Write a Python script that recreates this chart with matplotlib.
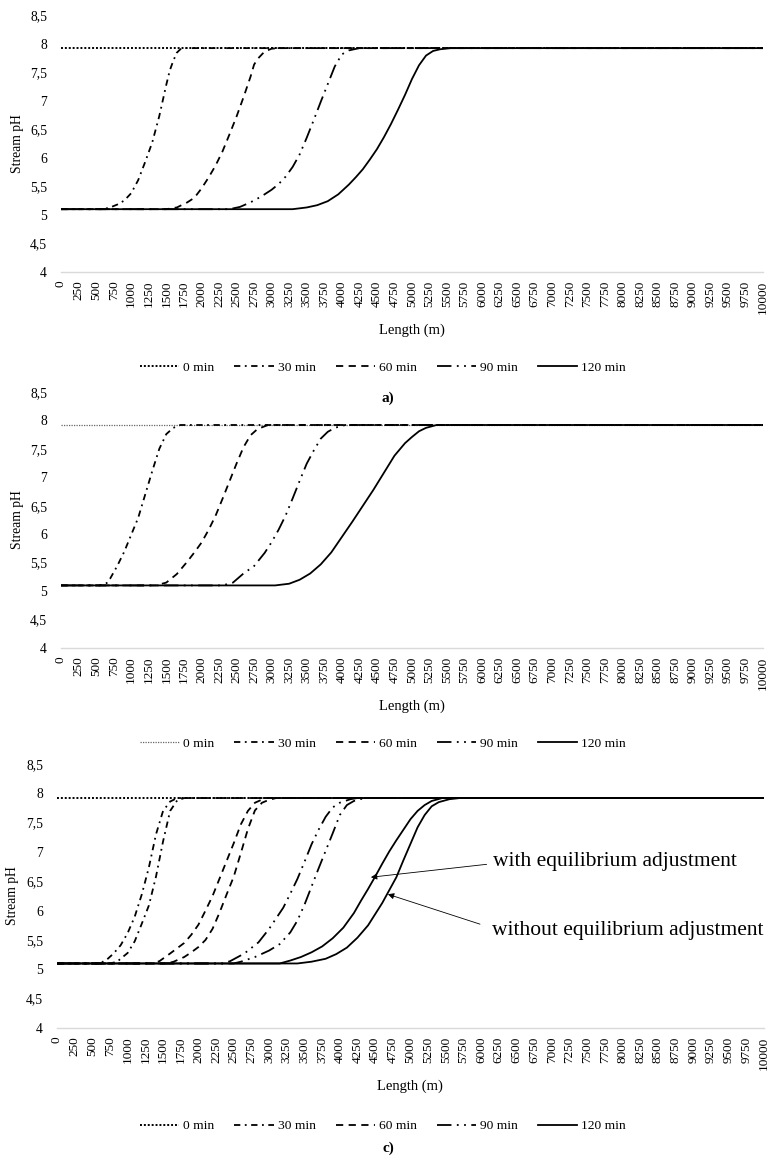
import matplotlib
matplotlib.use("Agg")
import matplotlib.pyplot as plt

plt.rcParams["font.family"] = ["Liberation Serif", "DejaVu Serif"]

# pH along the stream at 0, 30, 60, 90 and 120 min (x in metres)
A_0_X = [0, 10000]
A_0_PH = [7.92, 7.92]
A_30_X = [0, 600, 700, 800, 900, 1000, 1100, 1200, 1300, 1400, 1500, 1550, 1600, 1650, 1700, 1750, 10000]
A_30_PH = [5.1, 5.1, 5.13, 5.18, 5.25, 5.38, 5.61, 5.93, 6.27, 6.73, 7.28, 7.53, 7.7, 7.84, 7.9, 7.92, 7.92]
A_60_X = [0, 1500, 1650, 1800, 1900, 2000, 2100, 2200, 2300, 2400, 2500, 2600, 2700, 2750, 2800, 2900, 3000, 3100, 10000]
A_60_PH = [5.1, 5.1, 5.13, 5.22, 5.3, 5.46, 5.65, 5.86, 6.11, 6.41, 6.72, 7.06, 7.42, 7.63, 7.73, 7.86, 7.91, 7.92, 7.92]
A_90_X = [0, 2400, 2550, 2700, 2850, 3000, 3100, 3200, 3300, 3400, 3500, 3600, 3700, 3800, 3900, 4000, 4100, 4250, 10000]
A_90_PH = [5.1, 5.1, 5.14, 5.22, 5.32, 5.44, 5.54, 5.67, 5.84, 6.06, 6.35, 6.66, 6.98, 7.29, 7.6, 7.81, 7.88, 7.92, 7.92]
A_120_X = [0, 3300, 3500, 3650, 3800, 3950, 4100, 4200, 4300, 4400, 4500, 4600, 4700, 4800, 4900, 5000, 5100, 5200,
           5300, 5400, 5550, 10000]
A_120_PH = [5.1, 5.1, 5.13, 5.17, 5.24, 5.36, 5.53, 5.66, 5.8, 5.97, 6.15, 6.36, 6.59, 6.84, 7.1, 7.38, 7.62, 7.79,
            7.87, 7.9, 7.92, 7.92]

B_0_X = [0, 10000]
B_0_PH = [7.92, 7.92]
B_30_X = [0, 550, 650, 700, 800, 900, 1000, 1100, 1200, 1300, 1400, 1500, 1600, 1700, 10000]
B_30_PH = [5.1, 5.1, 5.14, 5.22, 5.44, 5.69, 5.99, 6.29, 6.7, 7.11, 7.5, 7.76, 7.87, 7.92, 7.92]
B_60_X = [0, 1350, 1500, 1650, 1800, 1900, 2000, 2100, 2200, 2300, 2400, 2500, 2600, 2700, 2800, 2950, 10000]
B_60_PH = [5.1, 5.1, 5.15, 5.3, 5.52, 5.68, 5.85, 6.07, 6.32, 6.62, 6.93, 7.24, 7.53, 7.74, 7.85, 7.92, 7.92]
B_90_X = [0, 2300, 2450, 2600, 2750, 2900, 3000, 3100, 3200, 3300, 3400, 3500, 3600, 3700, 3800, 3900, 4050, 10000]
B_90_PH = [5.1, 5.1, 5.15, 5.31, 5.44, 5.67, 5.86, 6.08, 6.33, 6.63, 6.94, 7.24, 7.47, 7.68, 7.8, 7.87, 7.92, 7.92]
B_120_X = [0, 3050, 3250, 3400, 3550, 3700, 3850, 4000, 4150, 4300, 4450, 4600, 4750, 4900, 5000, 5100, 5200, 5350,
           10000]
B_120_PH = [5.1, 5.1, 5.13, 5.2, 5.31, 5.47, 5.68, 5.95, 6.22, 6.5, 6.78, 7.08, 7.38, 7.6, 7.71, 7.81, 7.87, 7.92,
            7.92]

# panel c: with (w) and without (wo) equilibrium adjustment
C_0_X = [0, 10000]
C_0_PH = [7.92, 7.92]
C_30W_X = [0, 600, 700, 800, 900, 1000, 1100, 1200, 1300, 1400, 1500, 1600, 1700, 10000]
C_30W_PH = [5.1, 5.1, 5.16, 5.27, 5.41, 5.62, 5.9, 6.28, 6.74, 7.3, 7.7, 7.86, 7.92, 7.92]
C_30WO_X = [0, 750, 850, 1000, 1100, 1200, 1300, 1400, 1500, 1600, 1700, 1800, 10000]
C_30WO_PH = [5.1, 5.1, 5.13, 5.28, 5.48, 5.78, 6.09, 6.58, 7.18, 7.7, 7.88, 7.92, 7.92]
C_60W_X = [0, 1350, 1450, 1600, 1800, 1900, 2000, 2100, 2200, 2300, 2400, 2500, 2600, 2700, 2800, 2950, 10000]
C_60W_PH = [5.1, 5.1, 5.14, 5.27, 5.45, 5.59, 5.76, 6.0, 6.25, 6.55, 6.85, 7.15, 7.47, 7.7, 7.84, 7.92, 7.92]
C_60WO_X = [0, 1550, 1650, 1800, 1900, 2000, 2100, 2200, 2300, 2400, 2500, 2600, 2700, 2800, 2900, 3000, 3100, 10000]
C_60WO_PH = [5.1, 5.1, 5.13, 5.21, 5.29, 5.38, 5.5, 5.69, 5.97, 6.28, 6.58, 6.98, 7.39, 7.71, 7.84, 7.89, 7.92, 7.92]
C_90W_X = [0, 2350, 2450, 2650, 2850, 3000, 3100, 3200, 3300, 3400, 3500, 3600, 3700, 3800, 3900, 4000, 4150, 4250,
           10000]
C_90W_PH = [5.1, 5.1, 5.14, 5.27, 5.46, 5.69, 5.87, 6.05, 6.29, 6.54, 6.83, 7.13, 7.38, 7.6, 7.76, 7.84, 7.9, 7.92,
            7.92]
C_90WO_X = [0, 2500, 2600, 2800, 3000, 3150, 3300, 3400, 3500, 3600, 3700, 3800, 3900, 4000, 4100, 4200, 4350, 10000]
C_90WO_PH = [5.1, 5.1, 5.13, 5.21, 5.32, 5.43, 5.63, 5.83, 6.1, 6.41, 6.72, 7.02, 7.32, 7.63, 7.8, 7.87, 7.92, 7.92]
C_120W_X = [0, 3150, 3300, 3450, 3600, 3750, 3900, 4050, 4200, 4300, 4400, 4500, 4600, 4700, 4800, 4900, 5000, 5100,
            5200, 5300, 5450, 10000]
C_120W_PH = [5.1, 5.1, 5.15, 5.21, 5.29, 5.39, 5.53, 5.71, 5.96, 6.17, 6.37, 6.58, 6.8, 7.01, 7.2, 7.38, 7.56, 7.7,
             7.8, 7.87, 7.92, 7.92]
C_120WO_X = [0, 3400, 3600, 3800, 3950, 4100, 4250, 4400, 4500, 4600, 4700, 4800, 4900, 5000, 5100, 5200, 5300, 5400,
             5550, 5700, 10000]
C_120WO_PH = [5.1, 5.1, 5.13, 5.18, 5.26, 5.37, 5.54, 5.75, 5.94, 6.13, 6.35, 6.57, 6.86, 7.14, 7.42, 7.63, 7.78,
              7.85, 7.9, 7.92, 7.92]

LEGEND_LABELS = ["0 min", "30 min", "60 min", "90 min", "120 min"]
Y_TICKS = [4, 4.5, 5, 5.5, 6, 6.5, 7, 7.5, 8, 8.5]
X_TICKS = list(range(0, 10001, 250))

STYLES = [(0, (1, 1)), (0, (3.5, 2.5, 1, 2.5)), (0, (4, 3)), (0, (8, 3, 1, 3, 1, 3)), "-"]

W, H = 770, 1160


def _rect(left, top, right, bottom):
    return [left / W, 1 - bottom / H, (right - left) / W, (bottom - top) / H]


def _style_axes(ax):
    ax.set_xlim(0, 10000)
    ax.set_ylim(4, 8.5)
    ax.set_xticks(X_TICKS)
    ax.set_xticklabels([str(t) for t in X_TICKS], rotation=90, fontsize=9.5)
    ax.set_yticks(Y_TICKS)
    ax.set_yticklabels([f"{t:g}".replace(".", ",") for t in Y_TICKS], fontsize=9.8)
    ax.tick_params(axis="x", length=0, pad=6)
    ax.tick_params(axis="y", length=0, pad=10)
    for side in ("top", "right", "left"):
        ax.spines[side].set_visible(False)
    ax.spines["bottom"].set_color("#d9d9d9")
    ax.spines["bottom"].set_linewidth(1.0)


def draw_panel(ax, curves, first_color="black", first_lw=1.4):
    handles = []
    for i, group in enumerate(curves):
        color = first_color if i == 0 else "black"
        lw = first_lw if i == 0 else 1.3
        line = None
        for xs, ph in group:
            line, = ax.plot(xs, ph, color=color, lw=lw, linestyle=STYLES[i], solid_joinstyle="round")
        handles.append(line)
    _style_axes(ax)
    return handles


def _labels(ax, handles, cx, label_y, legend_y, ylab_x):
    box = ax.get_position()
    fig.text(ylab_x / W, (box.y0 + box.y1) / 2, "Stream pH", rotation=90, ha="center", va="center", fontsize=9.8)
    fig.text(cx / W, 1 - label_y / H, "Length (m)", ha="center", va="center", fontsize=10.5)
    fig.legend(handles, LEGEND_LABELS, loc="center", bbox_to_anchor=(383 / W, 1 - legend_y / H), ncol=5,
               frameon=False, fontsize=9.7, handlelength=2.9, handletextpad=0.3, columnspacing=1.5)


fig = plt.figure(figsize=(7.7, 11.6), dpi=100)

ax_a = fig.add_axes(_rect(61, 15, 763, 272))
h_a = draw_panel(ax_a, [[(A_0_X, A_0_PH)], [(A_30_X, A_30_PH)], [(A_60_X, A_60_PH)], [(A_90_X, A_90_PH)],
                        [(A_120_X, A_120_PH)]])
_labels(ax_a, h_a, 412, 330, 368, 18)
fig.text(388 / W, 1 - 398 / H, "a)", ha="center", va="center", fontsize=11, fontweight="bold")

ax_b = fig.add_axes(_rect(61, 392, 763, 648))
h_b = draw_panel(ax_b, [[(B_0_X, B_0_PH)], [(B_30_X, B_30_PH)], [(B_60_X, B_60_PH)], [(B_90_X, B_90_PH)],
                        [(B_120_X, B_120_PH)]], first_color="#666666", first_lw=0.9)
_labels(ax_b, h_b, 412, 706, 744, 18)

ax_c = fig.add_axes(_rect(57, 764, 764, 1028))
h_c = draw_panel(ax_c, [[(C_0_X, C_0_PH)],
                        [(C_30W_X, C_30W_PH), (C_30WO_X, C_30WO_PH)],
                        [(C_60W_X, C_60W_PH), (C_60WO_X, C_60WO_PH)],
                        [(C_90W_X, C_90W_PH), (C_90WO_X, C_90WO_PH)],
                        [(C_120W_X, C_120W_PH), (C_120WO_X, C_120WO_PH)]])
_labels(ax_c, h_c, 410, 1086, 1126, 13)
fig.text(388 / W, 1 - 1148 / H, "c)", ha="center", va="center", fontsize=11, fontweight="bold")

arrow = dict(arrowstyle="-|>", color="black", lw=0.6, mutation_scale=9, shrinkA=0, shrinkB=0)
ax_c.annotate("", xy=(4440, 6.57), xytext=(6077, 6.79), arrowprops=arrow)
ax_c.annotate("", xy=(4680, 6.28), xytext=(5983, 5.77), arrowprops=arrow)
ax_c.text(6167, 6.83, "with equilibrium adjustment", ha="left", va="center", fontsize=15.5)
ax_c.text(6148, 5.67, "without equilibrium adjustment", ha="left", va="center", fontsize=15.5)

fig.savefig("out.png", dpi=100)
